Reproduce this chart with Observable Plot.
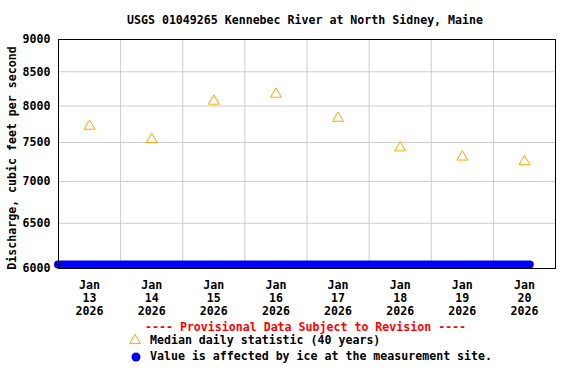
<!DOCTYPE html>
<html><head><meta charset="utf-8">
<script src="https://cdn.jsdelivr.net/npm/d3@7"></script>
<script src="https://cdn.jsdelivr.net/npm/@observablehq/plot@0.6"></script>
<style>
body{margin:0;background:#fff}
#wrap{position:relative;width:576px;height:384px;font-family:"DejaVu Sans Mono",monospace;font-weight:bold;font-size:11.6px;color:#000}
#wrap svg{position:absolute;left:0;top:0}
.ov{position:absolute;white-space:nowrap;line-height:14px;height:14px}
</style></head><body><div id="wrap"></div>
<script>
const title = "USGS 01049265 Kennebec River at North Sidney, Maine";
const yLabel = "Discharge, cubic feet per second";
const days = ["2026-01-13","2026-01-14","2026-01-15","2026-01-16","2026-01-17","2026-01-18","2026-01-19","2026-01-20"];
const medianCfs = [7720, 7540, 8070, 8170, 7830, 7430, 7310, 7250];
const yTicks = [6000, 6500, 7000, 7500, 8000, 8500, 9000];
const xStart = "2026-01-13T00:00:00Z", xEnd = "2026-01-21T00:00:00Z";
const iceStart = "2026-01-13T00:00:00Z", iceEnd = "2026-01-20T14:15:00Z";
const provisional = "---- Provisional Data Subject to Revision ----";
const legendLabels = ["Median daily statistic (40 years)", "Value is affected by ice at the measurement site."];

const noon = days.map(d => new Date(d + "T12:00:00Z"));
const midnights = days.slice(1).map(d => new Date(d + "T00:00:00Z"));
const medians = days.map((d, i) => ({t: noon[i], v: medianCfs[i]}));
const iceSpans = [{start: new Date(iceStart), end: new Date(iceEnd)}];
const fmt = d => `${d3.utcFormat("%b")(d)}\n${d3.utcFormat("%-d")(d)}\n${d3.utcFormat("%Y")(d)}`;

const plot = Plot.plot({
  width: 576, height: 384,
  marginLeft: 58, marginRight: 21, marginTop: 39, marginBottom: 116,
  style: {fontFamily: '"DejaVu Sans Mono", monospace', fontSize: "11.6px", fontWeight: "bold", color: "#000", background: "transparent"},
  x: {type: "utc", domain: [new Date(xStart), new Date(xEnd)]},
  y: {type: "log", domain: [yTicks[0], yTicks[yTicks.length - 1]], axis: null},
  marks: [
    Plot.ruleY(yTicks, {stroke: "#cccccc", strokeOpacity: 1}),
    Plot.ruleX(midnights, {stroke: "#cccccc", strokeOpacity: 1}),
    Plot.ruleY(iceSpans, {x1: "start", x2: "end", y: yTicks[0], dy: -4, stroke: "#0000ff", strokeWidth: 8, strokeLinecap: "round", clip: false}),
    Plot.dot(medians, {x: "t", y: "v", symbol: "triangle", r: 4, stroke: "#ffa500", fill: "none", strokeWidth: 1}),
    Plot.frame({stroke: "#000", strokeOpacity: 1}),
    Plot.text(yTicks, {y: d => d, text: d => String(d), frameAnchor: "left", textAnchor: "end", dx: -8, fill: "#000", fontWeight: "bold"}),
    Plot.axisX({ticks: noon, tickFormat: fmt, tickSize: 0, tickPadding: 11, label: null, lineHeight: 1.12})
  ]
});

const wrap = document.getElementById("wrap");
wrap.appendChild(plot);

function ov(text, left, cy, extra) {
  const d = document.createElement("div");
  d.className = "ov";
  d.textContent = text;
  d.style.left = left + "px";
  d.style.top = (cy - 7.5) + "px";
  if (extra) Object.assign(d.style, extra);
  wrap.appendChild(d);
  return d;
}
ov(title, 127, 20);
const yl = document.createElement("div");
yl.className = "ov";
yl.textContent = yLabel;
Object.assign(yl.style, {left: "12px", top: "157.5px", transform: "translate(-50%,-50%) rotate(-90deg)"});
wrap.appendChild(yl);
ov(provisional, 145, 327, {color: "#ff0000"});
ov(legendLabels[0], 150, 340.5);
ov(legendLabels[1], 150, 356.7);

// legend symbols
const ns = "http://www.w3.org/2000/svg";
const ls = document.createElementNS(ns, "svg");
ls.setAttribute("width", 576); ls.setAttribute("height", 384);
ls.style.position = "absolute"; ls.style.left = "0"; ls.style.top = "0"; ls.style.pointerEvents = "none";
const tri = document.createElementNS(ns, "path");
tri.setAttribute("d", d3.symbol(d3.symbolTriangle, Math.PI * 16)());
tri.setAttribute("transform", "translate(135,340.5)");
tri.setAttribute("fill", "none"); tri.setAttribute("stroke", "#ffa500");
ls.appendChild(tri);
const c = document.createElementNS(ns, "circle");
c.setAttribute("cx", 136); c.setAttribute("cy", 357); c.setAttribute("r", 4.5);
c.setAttribute("fill", "#0000ff");
ls.appendChild(c);
wrap.appendChild(ls);
</script>
</body></html>
